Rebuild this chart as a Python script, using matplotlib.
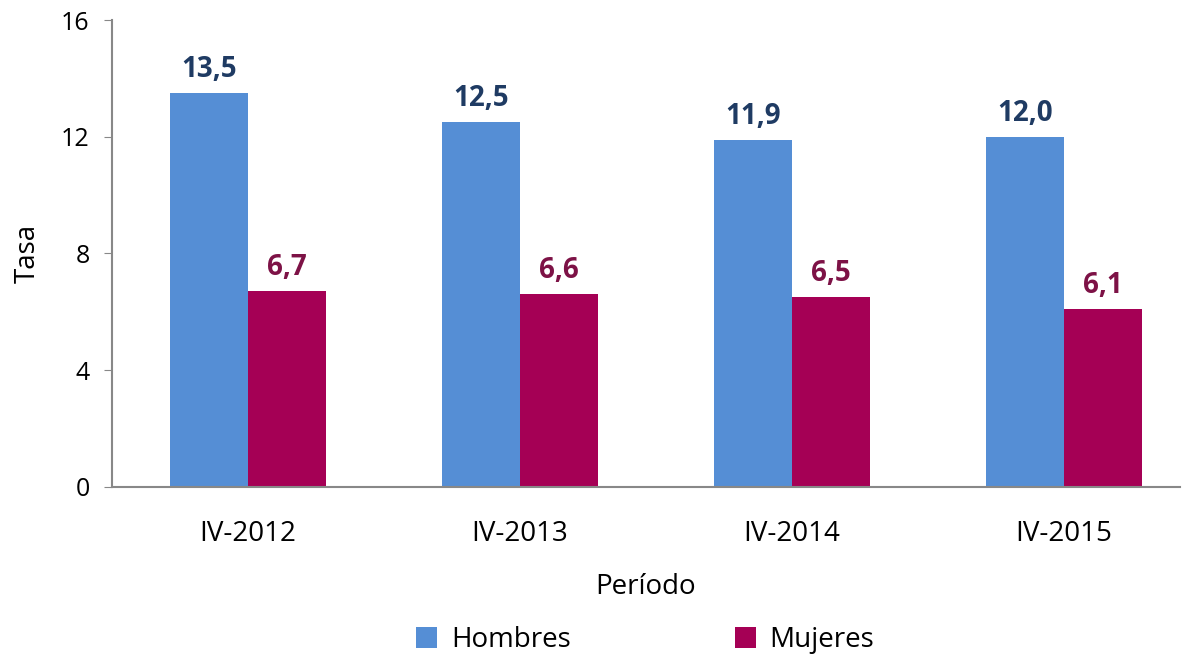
import numpy as np
import matplotlib.pyplot as plt

plt.rcParams['font.family'] = ['Open Sans', 'DejaVu Sans']

periodos = ["IV-2012", "IV-2013", "IV-2014", "IV-2015"]
hombres = [13.5, 12.5, 11.9, 12.0]
mujeres = [6.7, 6.6, 6.5, 6.1]

c_h = "#558ed5"
c_m = "#a50055"

fig = plt.figure(figsize=(11.84, 6.58), dpi=100)
ax = fig.add_axes([0.0946, 0.26, 0.902, 0.7096])

x = np.arange(len(periodos))
w = 0.287
b1 = ax.bar(x - w / 2, hombres, w, color=c_h, label="Hombres")
b2 = ax.bar(x + w / 2, mujeres, w, color=c_m, label="Mujeres")

for rect, v in zip(b1, hombres):
    ax.text(rect.get_x() + rect.get_width() / 2, v + 0.55, f"{v:.1f}".replace(".", ","),
            ha="center", va="baseline", fontsize=20, fontweight="bold", color="#1f3b63")
for rect, v in zip(b2, mujeres):
    ax.text(rect.get_x() + rect.get_width() / 2, v + 0.55, f"{v:.1f}".replace(".", ","),
            ha="center", va="baseline", fontsize=20, fontweight="bold", color="#7d1246")

ax.set_xlim(-0.5, 3.426)
ax.set_ylim(0, 16)
ax.set_yticks([0, 4, 8, 12, 16])
ax.set_xticks(x)
ax.set_xticklabels(periodos)
ax.tick_params(axis="y", labelsize=18, length=6, color="#888888", pad=10)
ax.tick_params(axis="x", labelsize=20, length=0, pad=24)
for s in ["top", "right"]:
    ax.spines[s].set_visible(False)
for s in ["left", "bottom"]:
    ax.spines[s].set_color("#888888")
    ax.spines[s].set_linewidth(1.5)

ax.set_ylabel("Tasa", fontsize=20, labelpad=14)
ax.set_xlabel("Período", fontsize=20, labelpad=18)

fig.legend(handles=[b1, b2], loc="center", bbox_to_anchor=(0.545, 0.027), ncol=2,
           frameon=False, fontsize=20, handlelength=0.75, handleheight=0.75,
           columnspacing=5.9, handletextpad=0.5, borderaxespad=0)

fig.savefig("out.png", dpi=100)
